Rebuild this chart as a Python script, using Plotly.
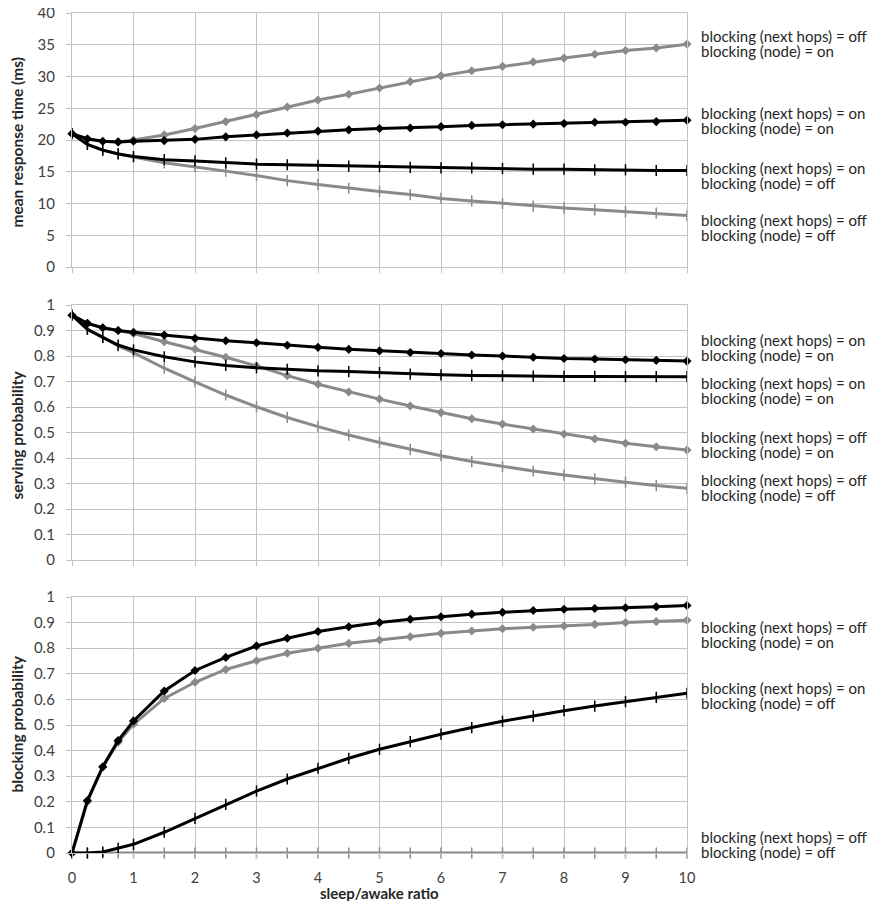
import plotly.graph_objects as go

# ---------------- data ----------------
sleep_awake = [0, 0.25, 0.5, 0.75, 1, 1.5, 2, 2.5, 3, 3.5, 4, 4.5, 5,
               5.5, 6, 6.5, 7, 7.5, 8, 8.5, 9, 9.5, 10]

# mean response time (ms)
rt_off_on = [21.0, 20.1, 19.8, 19.7, 20.0, 20.8, 21.8, 22.9, 24.0, 25.2, 26.3, 27.2, 28.2,
             29.2, 30.1, 30.9, 31.6, 32.3, 32.9, 33.5, 34.1, 34.5, 35.1]
rt_on_on = [21.0, 20.2, 19.8, 19.7, 19.8, 19.9, 20.1, 20.5, 20.8, 21.1, 21.4, 21.6, 21.8,
            21.9, 22.1, 22.3, 22.4, 22.5, 22.6, 22.8, 22.8, 22.9, 23.1]
rt_on_off = [21.0, 19.3, 18.4, 17.8, 17.4, 16.9, 16.7, 16.4, 16.2, 16.1, 16.0, 15.9, 15.8,
             15.7, 15.6, 15.6, 15.5, 15.4, 15.4, 15.3, 15.3, 15.2, 15.2]
rt_off_off = [21.0, 19.3, 18.4, 17.8, 17.3, 16.4, 15.8, 15.1, 14.4, 13.6, 13.0, 12.4, 11.9,
              11.4, 10.8, 10.4, 10.0, 9.6, 9.3, 9.0, 8.7, 8.5, 8.1]

# serving probability
sp_on_on_a = [0.96, 0.928, 0.911, 0.900, 0.893, 0.882, 0.869, 0.860, 0.852, 0.842, 0.834, 0.826, 0.820,
              0.814, 0.810, 0.804, 0.800, 0.795, 0.790, 0.788, 0.785, 0.783, 0.780]
sp_on_on_b = [0.96, 0.905, 0.873, 0.843, 0.824, 0.797, 0.777, 0.763, 0.754, 0.748, 0.742, 0.739, 0.735,
              0.729, 0.726, 0.724, 0.722, 0.721, 0.720, 0.720, 0.719, 0.719, 0.719]
sp_off_on = [0.96, 0.928, 0.911, 0.900, 0.888, 0.856, 0.827, 0.795, 0.761, 0.723, 0.689, 0.659, 0.631,
             0.604, 0.578, 0.554, 0.533, 0.514, 0.494, 0.475, 0.458, 0.444, 0.431]
sp_off_off = [0.96, 0.905, 0.873, 0.840, 0.813, 0.752, 0.699, 0.647, 0.601, 0.559, 0.523, 0.490, 0.461,
              0.434, 0.409, 0.386, 0.366, 0.349, 0.333, 0.318, 0.305, 0.292, 0.281]

# blocking probability
bp_on_on = [0.0, 0.205, 0.337, 0.439, 0.516, 0.633, 0.713, 0.764, 0.809, 0.839, 0.865, 0.884, 0.900,
            0.913, 0.923, 0.933, 0.940, 0.947, 0.952, 0.955, 0.958, 0.962, 0.967]
bp_off_on = [0.0, 0.200, 0.335, 0.433, 0.503, 0.604, 0.667, 0.717, 0.751, 0.780, 0.800, 0.819, 0.832,
             0.845, 0.858, 0.867, 0.876, 0.882, 0.887, 0.893, 0.900, 0.904, 0.909]
bp_on_off = [0.0, 0.0, 0.004, 0.018, 0.034, 0.081, 0.135, 0.190, 0.242, 0.289, 0.331, 0.370, 0.405,
             0.435, 0.464, 0.490, 0.515, 0.535, 0.556, 0.574, 0.591, 0.608, 0.624]
bp_off_off = [0.0] * 23

x_ticks = [0, 1, 2, 3, 4, 5, 6, 7, 8, 9, 10]
y_title_rt = "mean response time (ms)"
y_title_sp = "serving probability"
y_title_bp = "blocking probability"
x_title = "sleep/awake ratio"

L_OFF_ON = ("blocking (next hops) = off", "blocking (node) = on")
L_ON_ON = ("blocking (next hops) = on", "blocking (node) = on")
L_ON_OFF = ("blocking (next hops) = on", "blocking (node) = off")
L_OFF_OFF = ("blocking (next hops) = off", "blocking (node) = off")

# ---------------- styling ----------------
GRAY = "#8a8a8a"
BLACK = "#000000"
GRID = "#c3c3c3"
FONT = "Lato"
TICKC = "#404040"

fig = go.Figure()


def add(ys, color, kind, ax):
    if kind == "diamond":
        marker = dict(symbol="diamond", size=7, color=color, line=dict(width=0))
    else:
        marker = dict(symbol="line-ns", size=8, color=color, line=dict(width=1.5, color=color))
    fig.add_trace(go.Scatter(
        x=sleep_awake, y=ys, mode="lines+markers",
        line=dict(color=color, width=3), marker=marker,
        xaxis="x" + ax, yaxis="y" + ax, cliponaxis=False, showlegend=False))


# top panel (axis 1)
add(rt_off_off, GRAY, "plus", "")
add(rt_off_on, GRAY, "diamond", "")
add(rt_on_off, BLACK, "plus", "")
add(rt_on_on, BLACK, "diamond", "")
# middle panel (axis 2)
add(sp_off_off, GRAY, "plus", "2")
add(sp_off_on, GRAY, "diamond", "2")
add(sp_on_on_b, BLACK, "plus", "2")
add(sp_on_on_a, BLACK, "diamond", "2")
# bottom panel (axis 3)
add(bp_off_off, GRAY, "plus", "3")
add(bp_off_on, GRAY, "diamond", "3")
add(bp_on_off, BLACK, "plus", "3")
add(bp_on_on, BLACK, "diamond", "3")

# page body has an 8px margin on every side: the figure is made 16px smaller and offset by 8
OFF = 8
W, H = 879 - 2 * OFF, 909 - 2 * OFF
PL, PR, PT, PB = 72, 687, 13, 853          # plot area in page pixels
ML, MR, MT, MB = PL - OFF, W - (PR - OFF), PT - OFF, H - (PB - OFF)
plot_w = W - ML - MR
plot_h = H - MT - MB


def px_x(px):
    return (px - OFF - ML) / plot_w


def px_y(py):
    return (H - MB - (py - OFF)) / plot_h


def dom(top_px, bot_px):
    return [px_y(bot_px), px_y(top_px)]


def xax(anchor, labels):
    return dict(range=[0, 10], tickvals=x_ticks, showgrid=True, gridcolor=GRID, gridwidth=1.3,
                zeroline=False, showline=True, mirror=True, linecolor=GRID, linewidth=1.3,
                ticks="outside", ticklen=5, tickcolor=GRID, tickwidth=1.3, automargin=False,
                showticklabels=labels, anchor=anchor, ticklabelstandoff=6,
                ticklabeloverflow="allow",
                tickfont=dict(family=FONT, size=14.5, color=TICKC))


def yax(rng, dtick, domain, anchor):
    return dict(range=rng, dtick=dtick, domain=domain, showgrid=True, gridcolor=GRID, gridwidth=1.3,
                zeroline=False, showline=True, mirror=True, linecolor=GRID, linewidth=1.3,
                ticks="outside", ticklen=5, tickcolor=GRID, tickwidth=1.3, anchor=anchor,
                automargin=False, ticklabelstandoff=8, ticklabeloverflow="allow",
                tickfont=dict(family=FONT, size=15, color=TICKC))


annotations = []


def ytitle(text, center_px):
    annotations.append(dict(text="<b>" + text + "</b>", xref="paper", yref="paper",
                            x=px_x(16.5), y=px_y(center_px),
                            xanchor="center", yanchor="middle", textangle=-90, showarrow=False,
                            font=dict(family=FONT, size=15.5, color="#262626")))


ytitle(y_title_rt, 142)
ytitle(y_title_sp, 435)
ytitle(y_title_bp, 724)
annotations.append(dict(text="<b>" + x_title + "</b>", xref="paper", yref="paper",
                        x=px_x(379), y=px_y(893), xanchor="center", yanchor="middle",
                        showarrow=False, borderpad=0,
                        font=dict(family=FONT, size=15, color="#262626")))


def label(lines, yval, ax):
    for i, t in enumerate(lines):
        annotations.append(dict(text=t, xref="x" + ax, yref="y" + ax, x=10, y=yval,
                                xanchor="left", yanchor="middle", xshift=12,
                                yshift=7.5 if i == 0 else -7.5, showarrow=False,
                                font=dict(family=FONT, size=15, color="#262626")))


label(L_OFF_ON, 35.2, "")
label(L_ON_ON, 23.1, "")
label(L_ON_OFF, 14.4, "")
label(L_OFF_OFF, 6.3, "")
label(L_ON_ON, 0.833, "2")
label(L_ON_ON, 0.665, "2")
label(L_OFF_ON, 0.453, "2")
label(L_OFF_OFF, 0.284, "2")
label(L_ON_ON, 1.014, "3")
label(L_OFF_ON, 0.855, "3")
label(L_ON_OFF, 0.615, "3")
label(L_OFF_OFF, 0.033, "3")

fig.update_layout(
    width=W, height=H, margin=dict(l=ML, r=MR, t=MT, b=MB, autoexpand=False),
    paper_bgcolor="white", plot_bgcolor="white",
    font=dict(family=FONT),
    xaxis=xax("y", False), xaxis2=xax("y2", False), xaxis3=xax("y3", True),
    yaxis=yax([0, 40], 5, dom(13, 267), "x"),
    yaxis2=yax([0, 1], 0.1, dom(305, 560), "x2"),
    yaxis3=yax([0, 1], 0.1, dom(597, 853), "x3"),
    annotations=annotations,
)

fig.write_html("out.html")
